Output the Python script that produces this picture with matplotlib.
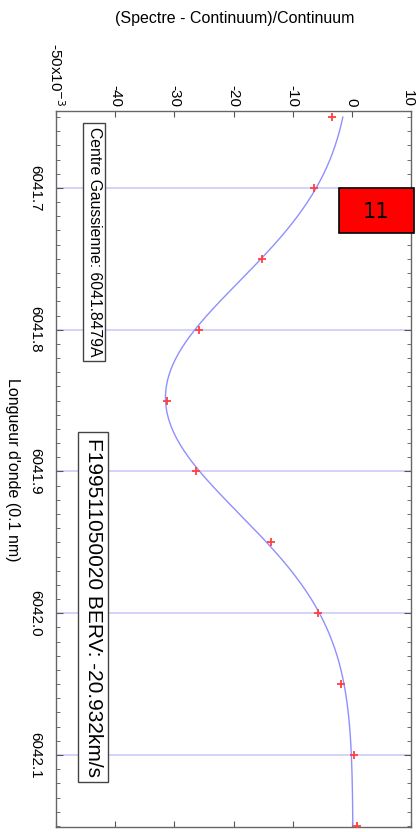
import numpy as np
import matplotlib
matplotlib.use("Agg")
import matplotlib.pyplot as plt
import matplotlib.transforms as mtransforms
from matplotlib.patches import Rectangle

plt.rcParams['font.family'] = ['Liberation Sans', 'DejaVu Sans']

# ---------------- data (flux in units of 1e-3) ---------------- #
wavelength = [6041.65, 6041.70, 6041.75, 6041.80, 6041.85, 6041.90,
              6041.95, 6042.00, 6042.05, 6042.10, 6042.15]
flux = [-3.4, -6.4, -15.1, -25.9, -31.3, -26.3, -13.7, -5.8, -1.9, 0.3, 0.8]

# gaussian fit parameters
g_center = 6041.8479
g_depth = -31.7
g_sigma = 0.082
g_offset = 0.2

x_ticks = [-50, -40, -30, -20, -10, 0, 10]
x_ticklabels = ['-50x10$^{-3}$', '-40', '-30', '-20', '-10', '0', '10']
y_ticks = [6041.7, 6041.8, 6041.9, 6042.0, 6042.1]
y_ticklabels = ['6041.7', '6041.8', '6041.9', '6042.0', '6042.1']

# ---------------- figure ---------------- #
fig = plt.figure(figsize=(4.16, 8.32), dpi=100)
ax = fig.add_axes([56/416, 1-827/832, 355/416, 716/832])

fit_wl = np.linspace(wavelength[0], wavelength[-1], 300)
fit_flux = g_offset + g_depth * np.exp(-(fit_wl - g_center)**2 / (2*g_sigma**2))

for yt in y_ticks:
    ax.axhline(yt, color='#c8c8fa', lw=1.1, zorder=1)
ax.plot(fit_flux, fit_wl, color='#8f8fff', lw=1.0, zorder=2)
ax.plot(flux, wavelength, ls='none', marker='+', ms=6, mew=1.3,
        color='#ff4040', zorder=3)

ax.set_xlim(-50, 10)
ax.set_ylim(6042.1508, 6041.6457)

ax.xaxis.tick_top()
ax.set_xticks(x_ticks)
ax.set_xticklabels(x_ticklabels, rotation=-90, va='bottom', ha='center', fontsize=11)
ax.set_yticks(y_ticks)
ax.set_yticks(np.arange(6041.65, 6042.155, 0.01), minor=True)
ax.set_yticklabels(y_ticklabels, rotation=-90, va='center', ha='center', fontsize=11)
ax.tick_params(axis='x', which='both', direction='in', length=4, top=True,
               bottom=True, labeltop=True, labelbottom=False, pad=3,
               color='#555555')
ax.tick_params(axis='y', which='major', direction='in', length=5, left=True,
               right=True, pad=15, color='#555555')
ax.tick_params(axis='y', which='minor', direction='in', length=3, left=True,
               right=True, color='#555555')
for s in ax.spines.values():
    s.set_color('#666666')
    s.set_linewidth(1.0)

# keep the last top label inside the picture
last = ax.get_xticklabels()[-1]
last.set_transform(last.get_transform() +
                   mtransforms.ScaledTranslation(-3/100, 0, fig.dpi_scale_trans))

# axis labels
fig.text(235/416, 1-18/832, '(Spectre - Continuum)/Continuum', fontsize=11.5,
         ha='center', va='center')
fig.text(12/416, 1-470/832, "Longueur d'onde (0.1 nm)", fontsize=11.5,
         rotation=-90, ha='center', va='center')

# annotation boxes
box = dict(boxstyle='square,pad=0.25', fc='white', ec='#444444', lw=1)
fig.text(94/416, 1-242/832, 'Centre Gaussienne: 6041.8479A', fontsize=11.3,
         rotation=-90, ha='center', va='center', bbox=box)
fig.text(93/416, 1-607/832, 'F199511050020 BERV: -20.932km/s', fontsize=15,
         rotation=-90, ha='center', va='center', bbox=box)

# red tag
fig.patches.append(Rectangle((339/416, 1-233/832), 75/416, 45/832,
                             transform=fig.transFigure, fc='#ff0000',
                             ec='black', lw=1.2))
fig.text(376/416, 1-212/832, '11', fontsize=15, family='DejaVu Sans',
         ha='center', va='center')

fig.savefig('out.png', dpi=100)
